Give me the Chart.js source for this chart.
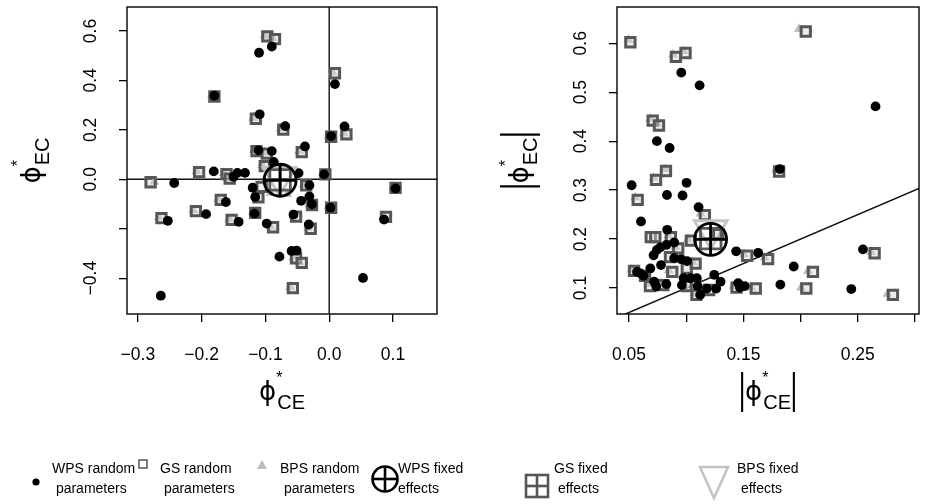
<!DOCTYPE html>
<html><head><meta charset="utf-8">
<script src="https://cdn.jsdelivr.net/npm/chart.js@4.4.1/dist/chart.umd.min.js"></script>
<style>
html,body{margin:0;padding:0;background:#fff;width:927px;height:504px;overflow:hidden;font-family:"Liberation Sans",Arial,sans-serif;}
#c1{position:absolute;left:0;top:0;width:463px;height:420px;}
#c2{position:absolute;left:463px;top:0;width:464px;height:420px;}
#legend{position:absolute;left:0;top:0;width:927px;height:504px;pointer-events:none;}
.lt{position:absolute;font-size:14px;line-height:20px;color:#000;white-space:nowrap;}
</style></head><body>
<canvas id="c1" width="463" height="420"></canvas>
<canvas id="c2" width="464" height="420"></canvas>
<div id="legend">
<svg width="927" height="504" style="position:absolute;left:0;top:0">
  <circle cx="36" cy="482" r="3.6" fill="#000"/>
  <rect x="139" y="460" width="8" height="8" fill="none" stroke="#555" stroke-width="1.5"/>
  <polygon points="262,460 267,469 257,469" fill="#bdbdbd"/>
  <circle cx="385" cy="479" r="12.5" fill="none" stroke="#000" stroke-width="2.6"/>
  <line x1="372.5" y1="479" x2="397.5" y2="479" stroke="#000" stroke-width="2.6"/>
  <line x1="385" y1="466.5" x2="385" y2="491.5" stroke="#000" stroke-width="2.6"/>
  <rect x="526" y="475" width="22" height="22" fill="none" stroke="#555" stroke-width="2.6"/>
  <line x1="526" y1="486" x2="548" y2="486" stroke="#555" stroke-width="2.6"/>
  <line x1="537" y1="475" x2="537" y2="497" stroke="#555" stroke-width="2.6"/>
  <polygon points="700,467 728,467 714,498" fill="none" stroke="#c4c4c4" stroke-width="2.6"/>
</svg>
<div class="lt" style="left:52px;top:458px">WPS random<br>&nbsp;parameters</div>
<div class="lt" style="left:160px;top:458px">GS random<br>&nbsp;parameters</div>
<div class="lt" style="left:280px;top:458px">BPS random<br>&nbsp;parameters</div>
<div class="lt" style="left:398px;top:458px">WPS fixed<br>effects</div>
<div class="lt" style="left:554px;top:458px">GS fixed<br>&nbsp;effects</div>
<div class="lt" style="left:737px;top:458px">BPS fixed<br>&nbsp;effects</div>
</div>
<script>
// ---------------- DATA ----------------
// Left panel: phi*_CE (x) vs phi*_EC (y)
const LEFT_X_TICKS = [-0.3, -0.2, -0.1, 0.0, 0.1];
const LEFT_X_LABELS = ["\u22120.3", "\u22120.2", "\u22120.1", "0.0", "0.1"];
const LEFT_Y_TICKS = [-0.4, -0.2, 0.0, 0.2, 0.4, 0.6];
const LEFT_Y_LABELS = ["\u22120.4", "", "0.0", "0.2", "0.4", "0.6"];

const WPS_RANDOM_LEFT = [
  [-0.110,0.512],[-0.090,0.537],[-0.180,0.338],[-0.109,0.263],[-0.069,0.215],[-0.038,0.133],
  [-0.111,0.117],[-0.090,0.114],[-0.087,0.070],[0.009,0.385],[0.024,0.214],[0.003,0.175],
  [-0.181,0.032],[-0.144,0.026],[-0.132,0.026],[-0.150,0.010],[-0.243,-0.015],[-0.048,0.025],
  [-0.008,0.020],[-0.120,-0.034],[-0.116,-0.072],[-0.162,-0.092],[-0.193,-0.141],[-0.253,-0.168],
  [-0.142,-0.172],[-0.117,-0.139],[-0.098,-0.179],[-0.056,-0.143],[-0.032,-0.183],[-0.031,-0.024],
  [-0.031,-0.069],[-0.044,-0.087],[-0.027,-0.101],[0.002,-0.115],[-0.059,-0.290],[-0.051,-0.289],
  [-0.078,-0.313],[-0.264,-0.471],[0.053,-0.399],[0.086,-0.163],[0.104,-0.037]
];
const GS_RANDOM_LEFT = [
  [-0.097,0.578],[-0.085,0.567],[-0.180,0.335],[-0.115,0.245],[-0.072,0.201],[-0.043,0.110],
  [-0.114,0.114],[-0.098,0.104],[0.009,0.429],[0.027,0.182],[0.003,0.172],[-0.204,0.029],
  [-0.161,0.021],[-0.156,0.003],[-0.280,-0.012],[-0.006,0.020],[-0.101,0.053],[-0.170,-0.083],
  [-0.209,-0.129],[-0.263,-0.157],[-0.153,-0.164],[-0.116,-0.136],[-0.088,-0.194],[-0.052,-0.151],
  [-0.029,-0.200],[-0.027,-0.104],[0.003,-0.115],[0.089,-0.152],[0.104,-0.035],[-0.052,-0.320],
  [-0.043,-0.338],[-0.057,-0.440],[-0.111,-0.073],[-0.036,-0.024],[-0.106,-0.031]
];
const BPS_RANDOM_LEFT = [
  [-0.101,0.582],[-0.089,0.571],[-0.184,0.339],[-0.119,0.249],[-0.076,0.205],[-0.047,0.114],
  [-0.118,0.118],[-0.102,0.108],[0.005,0.433],[0.023,0.186],[-0.001,0.176],[-0.208,0.033],
  [-0.165,0.025],[-0.160,0.007],[-0.274,-0.010],[-0.010,0.024],[-0.105,0.057],[-0.174,-0.079],
  [-0.213,-0.125],[-0.267,-0.153],[-0.157,-0.160],[-0.120,-0.132],[-0.092,-0.190],[-0.056,-0.147],
  [-0.033,-0.196],[-0.031,-0.100],[-0.001,-0.111],[0.085,-0.148],[0.100,-0.031],[-0.056,-0.316],
  [-0.047,-0.334],[-0.061,-0.436],[-0.115,-0.069],[-0.040,-0.020],[-0.092,-0.055],[-0.066,-0.060]
];
const WPS_FIXED_LEFT = [[-0.077,-0.004]];
const GS_FIXED_LEFT  = [[-0.077,-0.002]];
const BPS_FIXED_LEFT = [[-0.078,0.010]];

// Right panel: |phi*_CE| (x) vs |phi*_EC| (y)
const RIGHT_X_TICKS = [0.05, 0.10, 0.15, 0.20, 0.25, 0.30];
const RIGHT_X_LABELS = ["0.05", "", "0.15", "", "0.25", ""];
const RIGHT_Y_TICKS = [0.1, 0.2, 0.3, 0.4, 0.5, 0.6];
const RIGHT_Y_LABELS = ["0.1", "0.2", "0.3", "0.4", "0.5", "0.6"];

const WPS_RANDOM_RIGHT = [
  [0.0957,0.540],[0.1117,0.514],[0.2655,0.471],[0.0744,0.400],[0.0855,0.386],[0.0523,0.310],
  [0.1003,0.315],[0.0832,0.290],[0.0968,0.289],[0.1108,0.265],[0.0605,0.236],[0.0834,0.219],
  [0.1818,0.343],[0.1437,0.175],[0.1629,0.172],[0.2545,0.179],[0.1940,0.144],[0.1823,0.107],
  [0.2443,0.098],[0.0895,0.193],[0.0826,0.188],[0.0773,0.183],[0.0744,0.178],[0.0715,0.167],
  [0.0895,0.161],[0.0956,0.159],[0.1008,0.155],[0.0780,0.147],[0.0686,0.140],[0.0570,0.133],
  [0.0628,0.125],[0.0720,0.113],[0.0738,0.103],[0.0826,0.108],[0.0977,0.120],[0.0962,0.106],
  [0.1040,0.120],[0.1093,0.120],[0.1100,0.104],[0.1122,0.086],[0.1180,0.099],[0.1245,0.127],
  [0.1262,0.099],[0.1300,0.113],[0.1454,0.110],[0.1512,0.104],[0.1470,0.101],[0.0600,0.130]
];
const GS_RANDOM_RIGHT = [
  [0.0512,0.602],[0.0910,0.572],[0.0994,0.580],[0.2045,0.624],[0.0707,0.442],[0.0762,0.432],
  [0.0736,0.321],[0.0823,0.339],[0.0576,0.280],[0.1163,0.249],[0.0690,0.204],[0.0730,0.204],
  [0.0866,0.204],[0.1041,0.197],[0.0930,0.181],[0.0858,0.163],[0.0878,0.133],[0.1082,0.150],
  [0.1533,0.166],[0.1716,0.159],[0.2647,0.171],[0.2108,0.133],[0.2050,0.099],[0.2807,0.086],
  [0.0544,0.135],[0.0683,0.104],[0.0800,0.106],[0.1003,0.104],[0.1090,0.086],[0.1200,0.096],
  [0.1440,0.101],[0.1608,0.099],[0.1812,0.338],[0.1005,0.140],[0.1280,0.210],[0.0640,0.125]
];
const BPS_RANDOM_RIGHT = [
  [0.0495,0.607],[0.0885,0.577],[0.1985,0.629],[0.0685,0.446],[0.0715,0.325],[0.0555,0.285],
  [0.1785,0.342],[0.2005,0.101],[0.2065,0.135],[0.2615,0.174],[0.2760,0.088],[0.1415,0.104],
  [0.1125,0.252],[0.0820,0.343],[0.0975,0.584],[0.0745,0.436],[0.1505,0.169],[0.1685,0.162],
  [0.0525,0.138],[0.0665,0.108],[0.0845,0.136],[0.1055,0.153],[0.0905,0.184],[0.1015,0.200],
  [0.0845,0.207],[0.1570,0.101],[0.1070,0.089],[0.1180,0.099],[0.0780,0.110],[0.0985,0.107]
];
const WPS_FIXED_RIGHT = [[0.1213,0.1995]];
const GS_FIXED_RIGHT  = [[0.1215,0.2010]];
const BPS_FIXED_RIGHT = [[0.1215,0.2180]];

// ---------------- HELPERS ----------------
const FONT = '"Liberation Sans", Arial, sans-serif';
const PHI_FONT = '"DejaVu Sans", "Liberation Sans", sans-serif';
const pts = a => a.map(p => ({x: p[0], y: p[1]}));

function sets(wpsR, gsR, bpsR, wpsF, gsF, bpsF) {
  const base = {showLine:false};
  return [
    Object.assign({}, base, {data: pts(wpsF), pointStyle:'circle', pointRadius:16, borderWidth:2.8, borderColor:'#000', backgroundColor:'rgba(0,0,0,0)'}),
    Object.assign({}, base, {data: pts(wpsF), pointStyle:'cross', pointRadius:16, borderWidth:2.8, borderColor:'#000', backgroundColor:'rgba(0,0,0,0)'}),
    Object.assign({}, base, {data: pts(gsF), pointStyle:'rect', pointRadius:14.5, borderWidth:2.8, borderColor:'#5a5a5a', backgroundColor:'rgba(0,0,0,0)'}),
    Object.assign({}, base, {data: pts(gsF), pointStyle:'cross', pointRadius:10.5, borderWidth:2.8, borderColor:'#5a5a5a', backgroundColor:'rgba(0,0,0,0)'}),
    Object.assign({}, base, {data: pts(bpsF), pointStyle:'triangle', rotation:180, pointRadius:19, borderWidth:2.8, borderColor:'#c4c4c4', backgroundColor:'rgba(0,0,0,0)'}),
    Object.assign({}, base, {data: pts(wpsR), pointStyle:'circle', pointRadius:4.9, borderWidth:0, borderColor:'#000', backgroundColor:'#000'}),
    Object.assign({}, base, {data: pts(gsR), pointStyle:'rect', pointRadius:6.6, borderWidth:3, borderColor:'#575757', backgroundColor:'rgba(215,215,215,0.45)'}),
    Object.assign({}, base, {data: pts(bpsR), pointStyle:'triangle', pointRadius:5.8, borderWidth:0, borderColor:'#bdbdbd', backgroundColor:'#bdbdbd'})
  ];
}

// phi with superscript * and subscript, optionally inside |...|
function drawPhiLabel(ctx, cx, cy, rot, sub, bars) {
  ctx.save();
  ctx.translate(cx, cy); ctx.rotate(rot);
  const fPhi = '26px ' + PHI_FONT, fSub = '20px ' + FONT, fSup = '16px ' + FONT, fBar = '26px ' + FONT;
  const PHI = '\u03D5';
  ctx.font = fPhi; const wPhi = ctx.measureText(PHI).width;
  ctx.font = fSub; const wSub = ctx.measureText(sub).width;
  ctx.font = fSup; const wSup = ctx.measureText('*').width;
  const gap = bars ? 4 : 0;
  const inner = wPhi + Math.max(wSub, wSup) + 1;
  const total = inner + 2 * gap;
  let x = -total / 2 + gap;
  ctx.fillStyle = '#000'; ctx.textBaseline = 'alphabetic'; ctx.textAlign = 'left';
  ctx.font = fPhi; ctx.fillText(PHI, x, 0);
  ctx.font = fSup; ctx.fillText('*', x + wPhi, -17);
  ctx.font = fSub; ctx.fillText(sub, x + wPhi + 1, 9);
  if (bars) {
    ctx.font = fBar; ctx.textAlign = 'center';
    [-total / 2 + 1, total / 2 - 1].forEach(bx => {
      ctx.save(); ctx.translate(bx, 3); ctx.scale(1, 1.6); ctx.fillText('|', 0, 0); ctx.restore();
    });
  }
  ctx.restore();
}

function makePlugin(opts) {
  return {
    id: 'rstyle',
    beforeDatasetsDraw(chart) {
      const {ctx, chartArea: a, scales: {x, y}} = chart;
      ctx.save();
      ctx.beginPath(); ctx.rect(a.left, a.top, a.right - a.left, a.bottom - a.top); ctx.clip();
      ctx.strokeStyle = '#111'; ctx.lineWidth = 1.4;
      if (opts.cross) {
        const px = x.getPixelForValue(0), py = y.getPixelForValue(0);
        ctx.beginPath(); ctx.moveTo(px, a.top); ctx.lineTo(px, a.bottom); ctx.stroke();
        ctx.beginPath(); ctx.moveTo(a.left, py); ctx.lineTo(a.right, py); ctx.stroke();
      }
      if (opts.diag) {
        const lo = Math.max(x.min, y.min), hi = Math.min(x.max, y.max);
        ctx.beginPath(); ctx.moveTo(x.getPixelForValue(lo), y.getPixelForValue(lo));
        ctx.lineTo(x.getPixelForValue(hi), y.getPixelForValue(hi)); ctx.stroke();
      }
      ctx.restore();
    },
    afterDraw(chart) {
      const {ctx, chartArea: a, scales: {x, y}} = chart;
      ctx.save();
      ctx.strokeStyle = '#000'; ctx.lineWidth = 1.4;
      ctx.strokeRect(a.left, a.top, a.right - a.left, a.bottom - a.top);
      ctx.font = '17.5px ' + FONT; ctx.fillStyle = '#000';
      ctx.textAlign = 'center'; ctx.textBaseline = 'alphabetic';
      x.ticks.forEach((t, i) => {
        const lab = opts.xLabels[i]; if (!lab) return;
        ctx.fillText(lab, x.getPixelForValue(t.value), 360);
      });
      y.ticks.forEach((t, i) => {
        const lab = opts.yLabels[i]; if (!lab) return;
        const py = y.getPixelForValue(t.value);
        ctx.save(); ctx.translate(a.left - 37.5 + 6.3, py); ctx.rotate(-Math.PI / 2);
        ctx.fillText(lab, 0, 0); ctx.restore();
      });
      ctx.restore();
      drawPhiLabel(ctx, (a.left + a.right) / 2, 400, 0, 'CE', opts.bars);
      drawPhiLabel(ctx, opts.yTitleX, (a.top + a.bottom) / 2, -Math.PI / 2, 'EC', opts.bars);
    }
  };
}

function makeChart(id, data, o) {
  return new Chart(document.getElementById(id), {
    type: 'scatter',
    data: {datasets: data},
    options: {
      responsive: false, animation: false, events: [],
      layout: {autoPadding: false, padding: {top: 7, right: o.padRight, left: 0, bottom: 0}},
      plugins: {legend: {display: false}, tooltip: {enabled: false}},
      scales: {
        x: {
          type: 'linear', min: o.xmin, max: o.xmax,
          afterFit: s => { s.height = 106; },
          afterBuildTicks: s => { s.ticks = o.xTicks.map(v => ({value: v})); },
          grid: {display: true, drawOnChartArea: false, drawTicks: true, tickLength: 8, color: '#000', lineWidth: 1.3},
          border: {display: false},
          ticks: {display: false}
        },
        y: {
          type: 'linear', min: o.ymin, max: o.ymax,
          afterFit: s => { s.width = o.yWidth; },
          afterBuildTicks: s => { s.ticks = o.yTicks.map(v => ({value: v})); },
          grid: {display: true, drawOnChartArea: false, drawTicks: true, tickLength: 8, color: '#000', lineWidth: 1.3},
          border: {display: false},
          ticks: {display: false}
        }
      }
    },
    plugins: [makePlugin({cross: o.cross, diag: o.diag, bars: o.bars, xLabels: o.xLabels, yLabels: o.yLabels, yTitleX: o.yTitleX})]
  });
}

makeChart('c1', sets(WPS_RANDOM_LEFT, GS_RANDOM_LEFT, BPS_RANDOM_LEFT, WPS_FIXED_LEFT, GS_FIXED_LEFT, BPS_FIXED_LEFT), {
  xmin: -0.317, xmax: 0.169, ymin: -0.545, ymax: 0.697, padRight: 26, yWidth: 127,
  xTicks: LEFT_X_TICKS, xLabels: LEFT_X_LABELS, yTicks: LEFT_Y_TICKS, yLabels: LEFT_Y_LABELS,
  cross: true, diag: false, bars: false, yTitleX: 40
});
makeChart('c2', sets(WPS_RANDOM_RIGHT, GS_RANDOM_RIGHT, BPS_RANDOM_RIGHT, WPS_FIXED_RIGHT, GS_FIXED_RIGHT, BPS_FIXED_RIGHT), {
  xmin: 0.0395, xmax: 0.3035, ymin: 0.047, ymax: 0.674, padRight: 8, yWidth: 154,
  xTicks: RIGHT_X_TICKS, xLabels: RIGHT_X_LABELS, yTicks: RIGHT_Y_TICKS, yLabels: RIGHT_Y_LABELS,
  cross: false, diag: true, bars: true, yTitleX: 65
});
</script>
</body></html>
